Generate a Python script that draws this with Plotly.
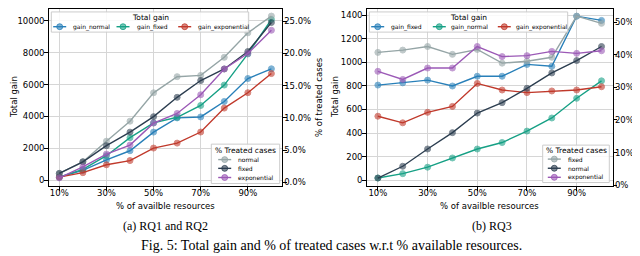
import plotly.graph_objects as go

# ---------------- data ----------------
resources = [10, 20, 30, 40, 50, 60, 70, 80, 90, 100]
x_tickvals = [10, 30, 50, 70, 90]
x_ticktext = ["10%", "30%", "50%", "70%", "90%"]

# (a) RQ1 and RQ2 -- total gain (left axis)
a_gain_normal = [200, 620, 1280, 1850, 3020, 3910, 3970, 4940, 6380, 6990]
a_gain_fixed = [200, 680, 1540, 2670, 3600, 3950, 4690, 5970, 7920, 10080]
a_gain_exponential = [200, 475, 970, 1235, 2020, 2330, 3025, 4525, 5490, 6690]
# (a) % treated cases (right axis)
a_pct_normal = [1.4, 3.2, 6.4, 9.5, 13.9, 16.4, 16.6, 19.4, 23.2, 25.8]
a_pct_fixed = [1.4, 3.2, 5.7, 7.8, 10.2, 13.2, 15.8, 17.6, 20.3, 24.8]
a_pct_exponential = [0.7, 2.4, 4.4, 5.8, 9.2, 10.7, 13.6, 17.6, 20.0, 23.6]

# (b) RQ3 -- total gain (left axis)
b_gain_fixed = [807, 826, 849, 799, 882, 882, 982, 966, 1391, 1355]
b_gain_normal = [19, 56, 111, 189, 265, 320, 417, 528, 695, 843]
b_gain_exponential = [543, 487, 576, 626, 821, 765, 743, 757, 765, 793]
# (b) % treated cases (right axis)
b_pct_fixed = [40.7, 41.4, 42.5, 40.1, 41.6, 37.4, 38.0, 39.2, 51.8, 49.6]
b_pct_normal = [2.2, 5.8, 11.1, 16.1, 22.1, 25.3, 29.7, 34.4, 38.2, 42.5]
b_pct_exponential = [34.9, 32.4, 35.9, 35.9, 42.5, 39.4, 39.7, 41.0, 40.4, 41.2]

a_gain_ticks = [0, 2000, 4000, 6000, 8000, 10000]
a_gain_labels = ["0", "2000", "4000", "6000", "8000", "10000"]
a_pct_ticks = [0, 5, 10, 15, 20, 25]
a_pct_labels = ["0.0%", "5.0%", "10.0%", "15.0%", "20.0%", "25.0%"]
b_gain_ticks = [0, 200, 400, 600, 800, 1000, 1200, 1400]
b_gain_labels = ["0", "200", "400", "600", "800", "1000", "1200", "1400"]
b_pct_ticks = [0, 10, 20, 30, 40, 50]
b_pct_labels = ["0%", "10%", "20%", "30%", "40%", "50%"]

legend_gain_title = "Total gain"
legend_pct_title = "% Treated cases"
a_gain_names = ["gain_normal", "gain_fixed", "gain_exponential"]
a_pct_names = ["normal", "fixed", "exponential"]
b_gain_names = ["gain_fixed", "gain_normal", "gain_exponential"]
b_pct_names = ["fixed", "normal", "exponential"]

# ---------------- style ----------------
BLUE, TEAL, RED = "#2980b9", "#16a085", "#c0392b"
GREY, NAVY, PURPLE = "#95a5a6", "#2c3e50", "#9b59b6"
W, H = 640, 256
SANS = "DejaVu Sans"
SERIF = "Liberation Serif"
DX = -2  # small horizontal shift of panel (b)


def px(x):
    return x / W


def py(y):
    return 1 - y / H


def rgba(hexc, a):
    h = hexc.lstrip("#")
    return "rgba(%d,%d,%d,%.2f)" % (int(h[0:2], 16), int(h[2:4], 16), int(h[4:6], 16), a)


fig = go.Figure()


def add(yvals, color, name, xa, ya):
    fig.add_trace(go.Scatter(
        x=resources, y=yvals, name=name, mode="lines+markers",
        line=dict(color=color, width=1.4),
        marker=dict(size=6, color=color, opacity=0.6, line=dict(color=color, width=1)),
        xaxis=xa, yaxis=ya, showlegend=False))


add(a_gain_normal, BLUE, a_gain_names[0], "x", "y")
add(a_gain_fixed, TEAL, a_gain_names[1], "x", "y")
add(a_gain_exponential, RED, a_gain_names[2], "x", "y")
add(a_pct_normal, GREY, a_pct_names[0], "x", "y2")
add(a_pct_fixed, NAVY, a_pct_names[1], "x", "y2")
add(a_pct_exponential, PURPLE, a_pct_names[2], "x", "y2")

add(b_gain_fixed, BLUE, b_gain_names[0], "x2", "y3")
add(b_gain_normal, TEAL, b_gain_names[1], "x2", "y3")
add(b_gain_exponential, RED, b_gain_names[2], "x2", "y3")
add(b_pct_fixed, GREY, b_pct_names[0], "x2", "y4")
add(b_pct_normal, NAVY, b_pct_names[1], "x2", "y4")
add(b_pct_exponential, PURPLE, b_pct_names[2], "x2", "y4")

tickfont = dict(family=SANS, size=8.5, color="black")
GRID = "#d6d6d6"
common_x = dict(range=[5.5, 104.5], tickvals=x_tickvals, ticktext=x_ticktext,
                showgrid=True, gridcolor=GRID, gridwidth=1, zeroline=False,
                showline=True, linecolor="black", linewidth=1, mirror=True,
                ticks="outside", ticklen=3.5, tickcolor="black", tickwidth=1,
                tickfont=tickfont, ticklabelstandoff=-5)
common_y = dict(showgrid=True, gridcolor=GRID, gridwidth=1, zeroline=False,
                showline=True, linecolor="black", linewidth=1,
                ticks="outside", ticklen=3.5, tickcolor="black", tickwidth=1,
                tickfont=tickfont, ticklabelstandoff=-2)
common_y2 = dict(showgrid=False, zeroline=False, showline=True, linecolor="black",
                 linewidth=1, ticks="outside", ticklen=3.5, tickcolor="black",
                 tickwidth=1, tickfont=tickfont, side="right", ticklabelstandoff=-4)

ydom = [py(181), py(1)]
fig.update_layout(
    width=W, height=H, margin=dict(l=0, r=0, t=0, b=0),
    paper_bgcolor="white", plot_bgcolor="white",
    xaxis=dict(domain=[px(40.7), px(274)], anchor="y", **common_x),
    yaxis=dict(domain=ydom, anchor="x", range=[-370, 10740], tickvals=a_gain_ticks,
               ticktext=a_gain_labels, **common_y),
    yaxis2=dict(overlaying="y", anchor="x", range=[-0.58, 26.9], tickvals=a_pct_ticks,
                ticktext=a_pct_labels, **common_y2),
    xaxis2=dict(domain=[px(360.7 + DX), px(606.7 + DX)], anchor="y3", **common_x),
    yaxis3=dict(domain=ydom, anchor="x2", range=[-50, 1452], tickvals=b_gain_ticks,
                ticktext=b_gain_labels, **common_y),
    yaxis4=dict(overlaying="y3", anchor="x2", range=[-0.3, 54.0], tickvals=b_pct_ticks,
                ticktext=b_pct_labels, **common_y2),
)

annotations = []
shapes = []


def text(x, y, s, size=8.5, family=SANS, angle=0, xanchor="center"):
    annotations.append(dict(x=px(x), y=py(y), xref="paper", yref="paper", text=s,
                            showarrow=False, textangle=angle, xanchor=xanchor,
                            yanchor="middle", font=dict(family=family, size=size, color="black")))


# axis titles
text(5.5, 91, "Total gain", angle=-90)
text(310.5, 91, "% of treated cases", angle=-90)
text(328.5 + DX, 91, "Total gain", angle=-90)
text(629, 91, "% of treated cases", size=8, angle=-90)
text(157.4, 201, "% of availble resources")
text(483.7 + DX, 201, "% of availble resources")

# captions
text(157, 221.5, "(a) RQ1 and RQ2", size=12, family=SERIF)
text(484, 221.5, "(b) RQ3", size=12, family=SERIF)
text(323, 241, "Fig. 5: Total gain and % of treated cases w.r.t % available resources.",
     size=14, family=SERIF)


def legend_box(x0, x1, y0, y1, title, title_y):
    shapes.append(dict(type="rect", xref="paper", yref="paper", x0=px(x0), x1=px(x1),
                       y0=py(y1), y1=py(y0), fillcolor="rgba(255,255,255,0.85)",
                       line=dict(color="#cccccc", width=1), layer="above"))
    text((x0 + x1) / 2, title_y, title, size=7.5)


def legend_entry(mx, my, tx, color, label):
    shapes.append(dict(type="line", xref="paper", yref="paper", x0=px(mx - 6.5), x1=px(mx + 6.5),
                       y0=py(my), y1=py(my), line=dict(color=color, width=1.4), layer="above"))
    shapes.append(dict(type="circle", xref="paper", yref="paper", x0=px(mx - 3), x1=px(mx + 3),
                       y0=py(my + 3), y1=py(my - 3), fillcolor=rgba(color, 0.6),
                       line=dict(color=rgba(color, 0.8), width=1), layer="above"))
    text(tx, my, label, size=6, xanchor="left")


gain_colors = [BLUE, TEAL, RED]
pct_colors = [GREY, NAVY, PURPLE]

# (a) top legend
legend_box(43.3, 240.7, 4, 24.5, legend_gain_title, 9.5)
for mx, tx, c, lab in zip([51.7, 115, 176.7], [63, 126.7, 187.7], gain_colors, a_gain_names):
    legend_entry(mx, 19, tx, c, lab)
# (a) bottom legend
legend_box(203.3, 271.7, 138.3, 178.3, legend_pct_title, 144.5)
for my, c, lab in zip([154, 162.9, 172.2], pct_colors, a_pct_names):
    legend_entry(216.7, my, 228.3, c, lab)
# (b) top legend
legend_box(363.3 + DX, 561.7 + DX, 4, 24.5, legend_gain_title, 9.5)
for mx, tx, c, lab in zip([371.7, 433.3, 498.3], [383.3, 442.7, 508.3], gain_colors, b_gain_names):
    legend_entry(mx + DX, 19, tx + DX, c, lab)
# (b) bottom legend
legend_box(536.7 + DX, 603.3 + DX, 139.3, 177.3, legend_pct_title, 144.5)
for my, c, lab in zip([153.5, 162.8, 172], pct_colors, b_pct_names):
    legend_entry(548.3 + DX, my, 560 + DX, c, lab)

fig.update_layout(annotations=annotations, shapes=shapes)
fig.write_html("out.html")
